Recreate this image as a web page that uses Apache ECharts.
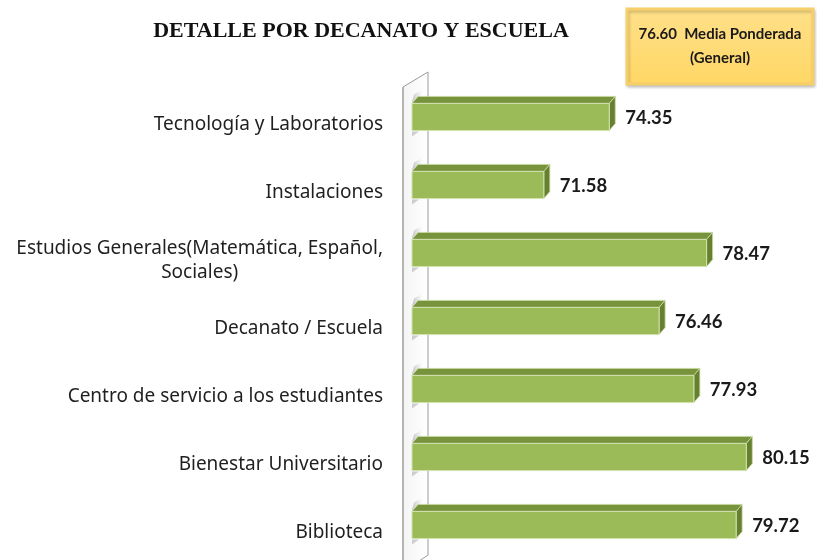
<!DOCTYPE html>
<html>
<head>
<meta charset="utf-8">
<script src="https://cdn.jsdelivr.net/npm/echarts@6/dist/echarts.min.js"></script>
<style>
  html, body { margin: 0; padding: 0; background: #ffffff; }
  #chart { width: 817px; height: 560px; }
</style>
</head>
<body>
<div id="chart"></div>
<script>
// Categories, top to bottom
const categories = [
  'Tecnología y Laboratorios',
  'Instalaciones',
  'Estudios Generales(Matemática, Español,\nSociales)',
  'Decanato / Escuela',
  'Centro de servicio a los estudiantes',
  'Bienestar Universitario',
  'Biblioteca'
];
// Scores per category
const scores = [74.35, 71.58, 78.47, 76.46, 77.93, 80.15, 79.72];
// Overall weighted mean
const weightedMean = 76.60;

const X_MIN = 66, X_MAX = 82;

const chart = echarts.init(document.getElementById('chart'));

// 3D-looking horizontal bar: front face, top face, right face, plus wall shadows
function renderBar(params, api) {
  const v = api.value(0);
  const idx = api.value(1);
  const left = api.coord([X_MIN, idx]);
  const right = api.coord([v, idx]);
  const band = api.size([0, 1])[1];
  const h = band * 0.4;
  const x0 = left[0], x1 = right[0];
  const yT = right[1] - h / 2, yB = right[1] + h / 2;
  const dx = 6, dy = 7;
  return {
    type: 'group',
    children: [
      // shadow on the wall above the bar
      { type: 'polygon', shape: { points: [[x0, yT - 1], [x0 + 2, yT - 9], [x0 + 9, yT - 13], [x0 + 9, yT - 1]] },
        style: { fill: new echarts.graphic.LinearGradient(0, 0, 1, 0, [{ offset: 0, color: 'rgba(140,140,140,0.55)' }, { offset: 1, color: 'rgba(200,200,200,0.1)' }]) } },
      // shadow on the wall below the bar
      { type: 'polygon', shape: { points: [[x0, yB + 1], [x0 + 7, yB + 1], [x0, yB + 6]] },
        style: { fill: 'rgba(150,150,150,0.45)' } },
      // top face
      { type: 'polygon', shape: { points: [[x0, yT], [x0 + dx, yT - dy], [x1 + dx, yT - dy], [x1, yT]] },
        style: { fill: '#77933C', stroke: '#C9DAA2', lineWidth: 0.8 } },
      // right face
      { type: 'polygon', shape: { points: [[x1, yT], [x1 + dx, yT - dy], [x1 + dx, yB - dy], [x1, yB]] },
        style: { fill: '#65802F', stroke: '#C9DAA2', lineWidth: 0.8 } },
      // front face
      { type: 'rect', shape: { x: x0, y: yT, width: x1 - x0, height: h },
        style: { fill: '#9BBB59', stroke: '#D3E2B0', lineWidth: 1 } },
      // value label
      { type: 'text', x: x1 + dx + 10, y: right[1] + 1,
        style: { text: v.toFixed(2), fill: '#1a1a1a', font: 'bold 18.5px Lato', verticalAlign: 'middle', align: 'left' } }
    ]
  };
}

chart.setOption({
  animation: false,
  backgroundColor: '#ffffff',
  title: {
    text: 'DETALLE POR DECANATO Y ESCUELA',
    left: 356,
    top: 15,
    textAlign: 'center',
    textStyle: { fontFamily: 'Liberation Serif', fontWeight: 'bold', fontSize: 22, color: '#111111' }
  },
  grid: { left: 412, right: 27, top: 83, bottom: 1, containLabel: false },
  xAxis: {
    type: 'value', min: X_MIN, max: X_MAX, show: false
  },
  yAxis: {
    type: 'category',
    data: categories,
    inverse: true,
    axisLine: { show: false },
    axisTick: { show: false },
    splitLine: { show: false },
    axisLabel: {
      margin: 29,
      color: '#1f1f1f',
      fontFamily: 'Noto Sans',
      fontSize: 19,
      lineHeight: 24,
      padding: [15, 0, 0, 0],
      formatter: function (val) {
        if (val.indexOf('\n') < 0) return val;
        return val.split('\n').map(s => '{c|' + s + '}').join('\n');
      },
      rich: { c: { align: 'center', fontFamily: 'Noto Sans', fontSize: 19, color: '#1f1f1f', lineHeight: 24 } }
    }
  },
  graphic: [
    // side wall of the chart
    { type: 'polygon', z: 0, shape: { points: [[403, 87], [428, 72], [428, 555], [403, 572]] },
      style: { fill: new echarts.graphic.LinearGradient(0, 0, 1, 0, [{ offset: 0, color: '#f4f4f4' }, { offset: 1, color: '#ffffff' }]), stroke: '#9a9a9a', lineWidth: 1 } },
    { type: 'line', z: 0, shape: { x1: 403, y1: 87, x2: 403, y2: 572 }, style: { stroke: '#b5b5b5', lineWidth: 2 } },
    // weighted mean box
    { type: 'rect', z: 5, shape: { x: 627, y: 9, width: 186, height: 75 },
      style: { fill: new echarts.graphic.LinearGradient(0, 0, 0, 1, [{ offset: 0, color: '#FFE08A' }, { offset: 1, color: '#FFD765' }]),
               stroke: '#F6CF6A', lineWidth: 3, shadowColor: 'rgba(0,0,0,0.2)', shadowBlur: 3, shadowOffsetX: 1, shadowOffsetY: 2 } },
    { type: 'text', z: 6, x: 720, y: 46,
      style: { text: weightedMean.toFixed(2) + '  Media Ponderada\n(General)', font: 'bold 15px Lato', fill: '#1a1a1a', align: 'center', verticalAlign: 'middle', lineHeight: 24 } }
  ],
  series: [{
    type: 'custom',
    renderItem: renderBar,
    encode: { x: 0, y: 1 },
    z: 3,
    data: scores.map((s, i) => [s, i])
  }]
});
</script>
</body>
</html>
